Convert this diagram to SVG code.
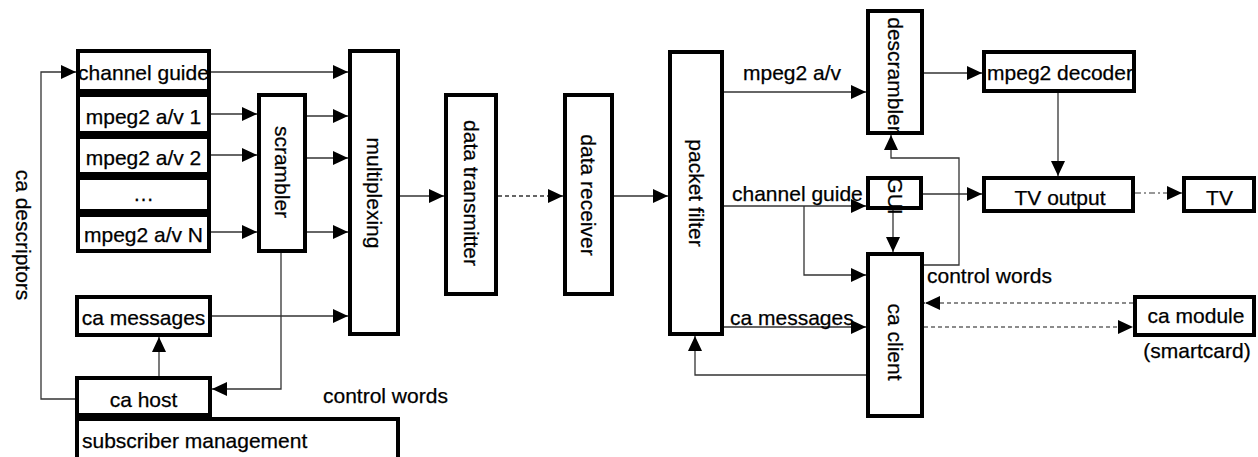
<svg xmlns="http://www.w3.org/2000/svg" width="1258" height="457" viewBox="0 0 1258 457">
<style>
  .box { fill: #fff; stroke: #000; stroke-width: 4; }
  .t { font-family: "Liberation Sans", Arial, sans-serif; font-size: 21px; fill: #000; stroke: #000; stroke-width: 0.25; }
  .m { text-anchor: middle; }
  .c { fill: none; stroke: #333; stroke-width: 1.3; }
  .dash { stroke-dasharray: 4 3; }
  .dd { stroke: #777; stroke-dasharray: 6 3 2 3; }
  .gd { stroke: #666; stroke-dasharray: 4 3; }
</style>
<defs>
  <marker id="arr" markerUnits="userSpaceOnUse" markerWidth="16" markerHeight="16" refX="15" refY="7" orient="auto">
    <path d="M0,0 L15,7 L0,14 z" fill="#000"/>
  </marker>
</defs>
<rect width="1258" height="457" fill="#fff"/>

<g id="connectors">
  <path class="c" d="M76,399 H41 V72 H76" marker-end="url(#arr)"/>
  <path class="c" d="M211,72 H348" marker-end="url(#arr)"/>
  <path class="c" d="M211,114 H257" marker-end="url(#arr)"/>
  <path class="c" d="M211,155 H257" marker-end="url(#arr)"/>
  <path class="c" d="M211,232 H257" marker-end="url(#arr)"/>
  <path class="c" d="M307,116 H348" marker-end="url(#arr)"/>
  <path class="c" d="M307,158 H348" marker-end="url(#arr)"/>
  <path class="c" d="M307,232 H348" marker-end="url(#arr)"/>
  <path class="c" d="M212,316 H348" marker-end="url(#arr)"/>
  <path class="c" d="M159,376 V337" marker-end="url(#arr)"/>
  <path class="c" d="M281,253 V389 H212" marker-end="url(#arr)"/>
  <path class="c" d="M400,196 H444" marker-end="url(#arr)"/>
  <path class="c dash" d="M498,196 H563" marker-end="url(#arr)"/>
  <path class="c" d="M614,196 H668" marker-end="url(#arr)"/>
  <path class="c" d="M724,92 H866" marker-end="url(#arr)"/>
  <path class="c" d="M724,206 H866" marker-end="url(#arr)"/>
  <path class="c" d="M804,206 V275 H866" marker-end="url(#arr)"/>
  <path class="c" d="M724,327 H866" marker-end="url(#arr)"/>
  <path class="c gd" d="M924,327 H1133" marker-end="url(#arr)"/>
  <path class="c gd" d="M1133,303 H925" marker-end="url(#arr)"/>
  <path class="c" d="M925,303 H908 V265 H959 V158 H891 V135" marker-end="url(#arr)"/>
  <path class="c" d="M866,375 H695 V336" marker-end="url(#arr)"/>
  <path class="c" d="M924,73 H982" marker-end="url(#arr)"/>
  <path class="c" d="M1058,93 V176" marker-end="url(#arr)"/>
  <path class="c" d="M923,194 H982" marker-end="url(#arr)"/>
  <path class="c" d="M893,210 V252" marker-end="url(#arr)"/>
  <path class="c dd" d="M1135,193 H1182" marker-end="url(#arr)"/>
</g>

<g id="n-channel-guide">
  <rect class="box" x="78" y="51" width="131" height="40"/>
  <text class="t m" x="143.5" y="80" font-size="20">channel guide</text>
</g>
<g id="n-mpeg1">
  <rect class="box" x="78" y="95" width="131" height="38"/>
  <text class="t m" x="143.5" y="124">mpeg2 a/v 1</text>
</g>
<g id="n-mpeg2">
  <rect class="box" x="78" y="137" width="131" height="37"/>
  <text class="t m" x="143.5" y="165">mpeg2 a/v 2</text>
</g>
<g id="n-dots">
  <rect class="box" x="78" y="178" width="131" height="33"/>
  <text class="t m" x="143.5" y="201">…</text>
</g>
<g id="n-mpegN">
  <rect class="box" x="78" y="215" width="131" height="36"/>
  <text class="t m" x="143.5" y="242">mpeg2 a/v N</text>
</g>
<g id="n-ca-messages">
  <rect class="box" x="77" y="297" width="133" height="38"/>
  <text class="t m" x="143.5" y="325">ca messages</text>
</g>
<g id="n-ca-host">
  <rect class="box" x="77" y="378" width="133" height="37"/>
  <text class="t m" x="143.5" y="407" font-size="22.5">ca host</text>
</g>
<g id="n-subscriber">
  <rect class="box" x="77" y="419" width="321" height="60"/>
  <text class="t" x="82" y="448" font-size="23">subscriber management</text>
</g>
<g id="lbl-ca-descriptors">
  <text class="t m" transform="translate(23,235) rotate(90)" y="7.5" font-size="21.5">ca descriptors</text>
</g>
<g id="lbl-control-words-left">
  <text class="t" x="323" y="403" font-size="19.5">control words</text>
</g>
<g id="n-scrambler">
  <rect class="box" x="259" y="95" width="46" height="156"/>
  <text class="t m" transform="translate(282,172) rotate(90)" y="7.5">scrambler</text>
</g>
<g id="n-multiplexing">
  <rect class="box" x="350" y="51" width="48" height="283"/>
  <text class="t m" transform="translate(374,193) rotate(90)" y="7.5">multiplexing</text>
</g>
<g id="n-data-transmitter">
  <rect class="box" x="446" y="95" width="50" height="199"/>
  <text class="t m" transform="translate(471,193) rotate(90)" y="7.5" font-size="21.5">data transmitter</text>
</g>
<g id="n-data-receiver">
  <rect class="box" x="565" y="95" width="47" height="199"/>
  <text class="t m" transform="translate(588,195) rotate(90)" y="7.5" font-size="21.5">data receiver</text>
</g>
<g id="n-packet-filter">
  <rect class="box" x="670" y="52" width="52" height="282"/>
  <text class="t m" transform="translate(696,193) rotate(90)" y="7.5" font-size="21.5">packet filter</text>
</g>
<g id="lbl-right">
  <text class="t" x="743" y="80" font-size="22.5">mpeg2 a/v</text>
  <text class="t" x="732" y="201" font-size="20.5">channel guide</text>
  <text class="t" x="730" y="325" font-size="22">ca messages</text>
  <text class="t" x="927" y="283" font-size="19.5">control words</text>
</g>
<g id="n-descrambler">
  <rect class="box" x="868" y="11" width="54" height="122"/>
  <text class="t m" transform="translate(895,75) rotate(90)" y="7.5" font-size="21.5">descrambler</text>
</g>
<g id="n-gui">
  <rect class="box" x="868" y="178" width="53" height="30"/>
  <text class="t m" transform="translate(893,196) rotate(90)" y="5" font-size="13.5">GUI</text>
</g>
<g id="n-ca-client">
  <rect class="box" x="868" y="254" width="54" height="162"/>
  <text class="t m" transform="translate(895,342) rotate(90)" y="7.5" font-size="22">ca client</text>
</g>
<g id="n-mpeg2-decoder">
  <rect class="box" x="984" y="52" width="150" height="39"/>
  <text class="t m" x="1060" y="80" font-size="19.5">mpeg2 decoder</text>
</g>
<g id="n-tv-output">
  <rect class="box" x="984" y="178" width="149" height="33"/>
  <text class="t m" x="1060" y="205" font-size="22.5">TV output</text>
</g>
<g id="n-tv">
  <rect class="box" x="1184" y="178" width="70" height="33"/>
  <text class="t m" x="1219.5" y="205" font-size="25">TV</text>
</g>
<g id="n-ca-module">
  <rect class="box" x="1135" y="297" width="119" height="38"/>
  <text class="t m" x="1196" y="323" font-size="22">ca module</text>
  <text class="t m" x="1197" y="358" font-size="21">(smartcard)</text>
</g>
</svg>
